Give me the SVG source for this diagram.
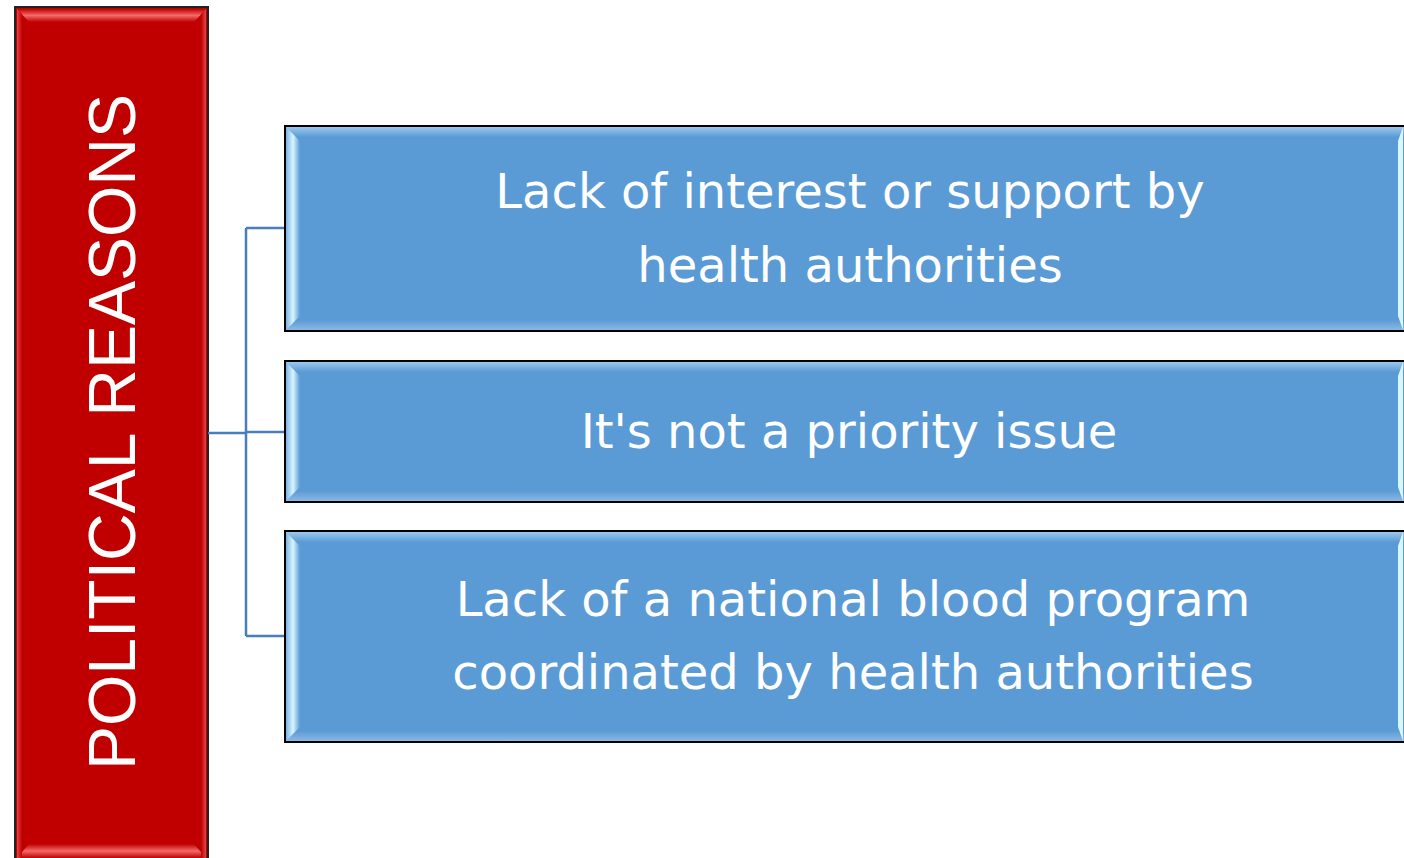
<svg xmlns="http://www.w3.org/2000/svg" width="1404" height="858" viewBox="0 0 1404 858">
<defs>
<linearGradient id="bTop" x1="0" y1="0" x2="0" y2="1"><stop offset="0" stop-color="#9cc8ee"/><stop offset="1" stop-color="#5b9bd5"/></linearGradient>
<linearGradient id="bBot" x1="0" y1="0" x2="0" y2="1"><stop offset="0" stop-color="#5b9bd5"/><stop offset="1" stop-color="#8ab8e4"/></linearGradient>
<linearGradient id="bLeft" x1="0" y1="0" x2="1" y2="0"><stop offset="0" stop-color="#7fb2e2"/><stop offset="0.5" stop-color="#d8f6ff"/><stop offset="1" stop-color="#5b9bd5"/></linearGradient>
<linearGradient id="rTop" x1="0" y1="0" x2="0" y2="1"><stop offset="0" stop-color="#c00000"/><stop offset="0.5" stop-color="#f46a6a"/><stop offset="1" stop-color="#c00000"/></linearGradient>
<linearGradient id="rSide" x1="0" y1="0" x2="1" y2="0"><stop offset="0" stop-color="#e04848"/><stop offset="1" stop-color="#c00000"/></linearGradient>
<linearGradient id="rSideR" x1="0" y1="0" x2="1" y2="0"><stop offset="0" stop-color="#c00000"/><stop offset="1" stop-color="#e04848"/></linearGradient>
</defs>
<style>
.box{fill:#5b9bd5;stroke:#000;stroke-width:2}
.lbl{font-family:"DejaVu Sans",Verdana,sans-serif;font-size:48px;fill:#fff;text-anchor:middle}
.con{fill:none;stroke:#4a7ebb;stroke-width:2.5}
</style>
<g id="political-reasons">
<rect x="15" y="7" width="193" height="860" fill="#c00000" stroke="#222" stroke-width="2"/>
<polygon points="17,9 206,9 194,22 29,22" fill="url(#rTop)"/>
<polygon points="17,858 206,858 194,844 29,844" fill="url(#rTop)"/>
<polygon points="17,9 22,14 22,858 17,858" fill="url(#rSide)"/>
<polygon points="206,9 201,14 201,858 206,858" fill="url(#rSideR)"/>
<text transform="translate(135,432) rotate(-90)" text-anchor="middle" font-family="Liberation Sans,Arial,sans-serif" font-size="66" fill="#fff">POLITICAL REASONS</text>
</g>
<g id="connectors">
<path class="con" d="M208,433 H246"/>
<path class="con" d="M246,228 V636" stroke-width="2"/>
<path class="con" d="M246,228 H285 M246,432 H285 M246,636 H285" stroke-width="2"/>
</g>
<g id="box1">
<rect class="box" x="285" y="126" width="1130" height="205"/>
<rect x="286" y="127" width="1128" height="10" fill="url(#bTop)"/>
<rect x="286" y="320" width="1128" height="10" fill="url(#bBot)"/>
<polygon points="286,127 300,141 300,316 286,330" fill="url(#bLeft)"/>
<polygon points="1403,127 1398,141 1398,316 1403,330" fill="#d8f6ff"/>
<text class="lbl" x="850" y="208">Lack of interest or support by</text>
<text class="lbl" x="850" y="282">health authorities</text>
</g>
<g id="box2">
<rect class="box" x="285" y="361" width="1130" height="141"/>
<rect x="286" y="362" width="1128" height="10" fill="url(#bTop)"/>
<rect x="286" y="491" width="1128" height="10" fill="url(#bBot)"/>
<polygon points="286,362 300,376 300,487 286,501" fill="url(#bLeft)"/>
<polygon points="1403,362 1398,376 1398,487 1403,501" fill="#d8f6ff"/>
<text class="lbl" x="849" y="448">It's not a priority issue</text>
</g>
<g id="box3">
<rect class="box" x="285" y="531" width="1130" height="211"/>
<rect x="286" y="532" width="1128" height="10" fill="url(#bTop)"/>
<rect x="286" y="731" width="1128" height="10" fill="url(#bBot)"/>
<polygon points="286,532 300,546 300,727 286,741" fill="url(#bLeft)"/>
<polygon points="1403,532 1398,546 1398,727 1403,741" fill="#d8f6ff"/>
<text class="lbl" x="853" y="616">Lack of a national blood program</text>
<text class="lbl" x="853" y="689">coordinated by health authorities</text>
</g>
</svg>
